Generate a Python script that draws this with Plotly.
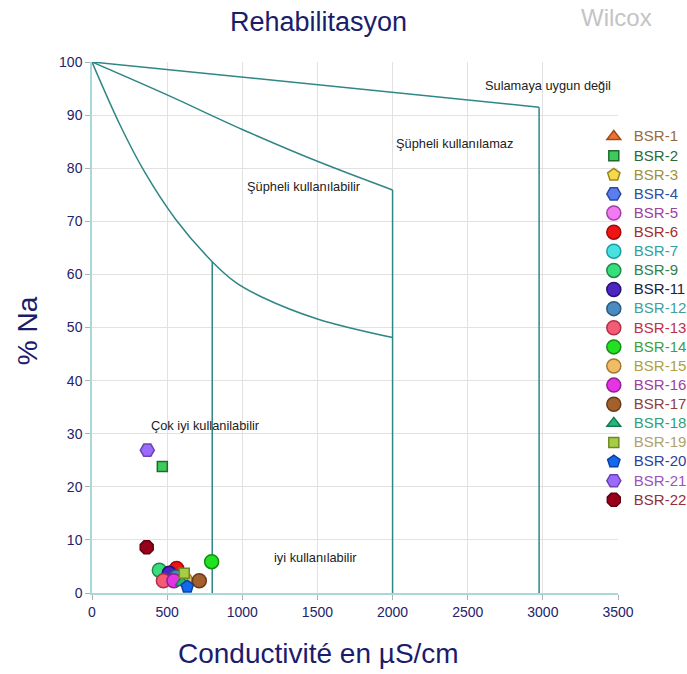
import plotly.graph_objects as go

# Sample identifiers, electrical conductivity (µS/cm) and sodium percentage
samples = ["BSR-1", "BSR-2", "BSR-3", "BSR-4", "BSR-5", "BSR-6", "BSR-7", "BSR-9",
           "BSR-11", "BSR-12", "BSR-13", "BSR-14", "BSR-15", "BSR-16", "BSR-17",
           "BSR-18", "BSR-19", "BSR-20", "BSR-21", "BSR-22"]
conductivity = [520, 468, 600, 515, 540, 563, 500, 448,
                514, 560, 475, 796, 620, 545, 714,
                600, 614, 634, 368, 364]
na_percent = [3.0, 23.8, 2.5, 3.5, 2.5, 4.6, 3.0, 4.3,
              3.7, 3.0, 2.3, 5.9, 2.5, 2.3, 2.3,
              2.0, 3.7, 1.2, 26.9, 8.6]

marker_symbols = ["triangle-up", "square", "pentagon", "hexagon2", "circle", "circle",
                  "circle", "circle", "circle", "circle", "circle", "circle", "circle",
                  "circle", "circle", "triangle-up", "square", "pentagon", "hexagon2",
                  "octagon"]
marker_fill = ["#ec7430", "#3dcc5c", "#f6d84a", "#5a7ef0", "#f47af4", "#f01414",
               "#46e2e2", "#36de7c", "#4b26c0", "#4a8cc0", "#f45c74", "#22e022",
               "#f2bc66", "#e434e4", "#a2602c", "#22b878", "#a8cc44", "#1468f0",
               "#9a6aff", "#98001a"]
marker_edge = ["#a04a1a", "#1f6a2e", "#9a8420", "#2a4aa0", "#a040a0", "#a00a0a",
               "#209a9a", "#1e8a4a", "#2a1070", "#2a5a80", "#b03048", "#168a16",
               "#a07a30", "#902090", "#6a3a14", "#167a50", "#6a8a22", "#0a40a0",
               "#6a44b0", "#600010"]
label_colors = ["#9a6a3a", "#2a6a3a", "#a09040", "#3050a0", "#a040a0", "#a03030",
                "#30a0a0", "#308050", "#202040", "#40a0a0", "#c03048", "#40a040",
                "#b0a040", "#a040a0", "#904040", "#30a080", "#b0a070", "#3040a0",
                "#a050c0", "#903040"]
marker_sizes = [12, 10, 13, 14, 14, 14, 14, 14, 14, 14, 14, 14, 14, 14, 14,
                12, 10, 13, 14, 14]

# Wilcox class boundaries: sloped/curved limits and their vertical drops
top_x = [0, 2975]
top_y = [100, 91.5]
top_drop_x = [2975, 2975]
top_drop_y = [91.5, 0]
mid_x = [0, 500, 1000, 1500, 2000]
mid_y = [100, 93.8, 87.3, 81.3, 75.9]
mid_drop_x = [2000, 2000]
mid_drop_y = [75.9, 0]
low_x = [0, 189, 350, 556, 800, 956, 1133, 1500, 2000]
low_y = [100, 88.0, 79.3, 70.4, 62.4, 58.5, 55.7, 51.6, 48.1]
low_drop_x = [800, 800]
low_drop_y = [62.4, 0]

zone_labels = ["Sulamaya uygun değil", "Şüpheli kullanılamaz", "Şüpheli kullanılabilir",
               "Çok iyi kullanilabilir", "iyi kullanılabilir"]
zone_x = [3034, 2415, 1410, 758, 1490]
zone_y = [95.5, 84.7, 76.6, 31.6, 6.6]

x_ticks = [0, 500, 1000, 1500, 2000, 2500, 3000, 3500]
y_ticks = [0, 10, 20, 30, 40, 50, 60, 70, 80, 90, 100]

line_color = "#2f8686"
navy = "#1c1c6c"
font_family = "Arial, Liberation Sans"

fig = go.Figure()

boundaries = [
    (top_x, top_y, "linear"), (top_drop_x, top_drop_y, "linear"),
    (mid_x, mid_y, "spline"), (mid_drop_x, mid_drop_y, "linear"),
    (low_x, low_y, "spline"), (low_drop_x, low_drop_y, "linear"),
]
for bx, by, shape in boundaries:
    line = dict(color=line_color, width=1.5, shape=shape)
    if shape == "spline":
        line["smoothing"] = 1.0
    fig.add_trace(go.Scatter(x=bx, y=by, mode="lines", showlegend=False,
                             hoverinfo="skip", line=line))

for i, name in enumerate(samples):
    fig.add_trace(go.Scatter(
        x=[conductivity[i]], y=[na_percent[i]], mode="markers",
        name=f"<span style='color:{label_colors[i]};font-size:15px'>{name}</span>",
        marker=dict(symbol=marker_symbols[i], size=marker_sizes[i],
                    color=marker_fill[i],
                    line=dict(color=marker_edge[i], width=1.5)),
    ))

for txt, zx, zy in zip(zone_labels, zone_x, zone_y):
    fig.add_annotation(x=zx, y=zy, text=txt, showarrow=False,
                       xanchor="center", yanchor="middle",
                       font=dict(family=font_family, size=12.8, color="#222222"))

paper_texts = [
    ("Rehabilitasyon", 0.4297, 1.075, 27, navy, 0),
    ("Wilcox", 0.998, 1.084, 24, "#c4c4c4", 0),
    ("Conductivité en µS/cm", 0.4297, -0.113, 28, navy, 0),
    ("% Na", -0.1236, 0.495, 28, navy, -90),
]
for txt, px, py, size, color, angle in paper_texts:
    fig.add_annotation(xref="paper", yref="paper", x=px, y=py, text=txt,
                       showarrow=False, xanchor="center", yanchor="middle",
                       textangle=angle,
                       font=dict(family=font_family, size=size, color=color))

axis_common = dict(showgrid=True, gridcolor="#e2e2e2", gridwidth=1,
                   showline=True, linecolor="#a8d8d8", linewidth=1.5,
                   ticks="outside", ticklen=5, tickcolor="#b0b0b0",
                   tickfont=dict(family=font_family, size=14, color="#23236b"),
                   zeroline=False, mirror=False)

fig.update_xaxes(range=[0, 3500], tickvals=x_ticks, **axis_common)
fig.update_yaxes(range=[0, 100], tickvals=y_ticks, **axis_common)

fig.update_layout(
    width=687, height=674,
    margin=dict(l=92, r=69, t=62, b=81, autoexpand=False),
    paper_bgcolor="white", plot_bgcolor="white",
    legend=dict(x=0.954, xanchor="left", y=0.887, yanchor="top",
                bgcolor="rgba(0,0,0,0)", tracegroupgap=0,
                font=dict(family=font_family, size=12.4)),
)

fig.write_html("out.html")
